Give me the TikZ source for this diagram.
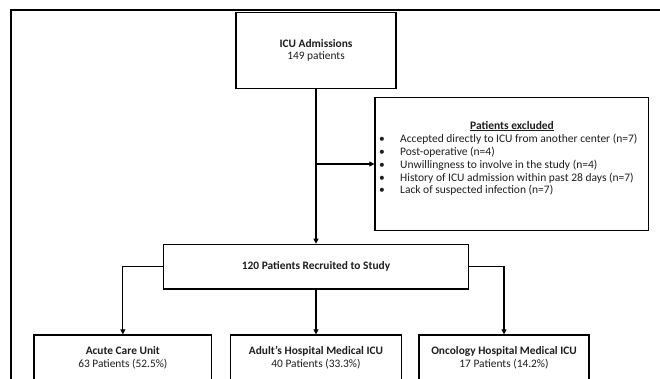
\documentclass[tikz,border=0pt]{standalone}
\usepackage{fontspec}
\setmainfont{Carlito}
\usepackage{xcolor}
\usepackage{tikz}
\usetikzlibrary{arrows.meta, positioning}
\definecolor{textdark}{RGB}{30, 30, 30}
\tikzset{
    flowbox/.style={
        rectangle,
        draw=black,
        line width=1.3pt,
        align=center,
        text=textdark,
        inner sep=0pt,
        font=\fontsize{11.4}{12.8}\selectfont
    },
    listtext/.style={
        align=left,
        text=textdark,
        inner sep=0pt,
        font=\fontsize{11.5}{12.8}\selectfont
    },
    flow/.style={
        -{Triangle[length=5pt,width=5pt]},
        line width=1.1pt
    }
}
\newcommand{\exclitem}[1]{\makebox[21pt][l]{\textbullet}#1}

\begin{document}
\begin{tikzpicture}[x=1pt, y=-1pt]
    \clip (0,0) rectangle (660,378);
    \fill[white] (0,0) rectangle (660,378);
    % frame round the whole chart
    \draw[line width=1.2pt] (11,400) -- (11,10) -- (680,10);

    \node[flowbox, minimum width=160pt, minimum height=75.6pt] (adm) at (316,50.5) {\textbf{ICU Admissions}\\149 patients};

    \node[flowbox, minimum width=273.5pt, minimum height=132.6pt] (excl) at (511.75,164) {};
    \node[listtext, align=center] (exclhead) at (512,126) {\textbf{\underline{Patients excluded}}};
    \node[listtext, anchor=north west] (excllist) at (379,134) {%
        \exclitem{Accepted directly to ICU from another center (n=7)}\\
        \exclitem{Post-operative (n=4)}\\
        \exclitem{Unwillingness to involve in the study (n=4)}\\
        \exclitem{History of ICU admission within past 28 days (n=7)}\\
        \exclitem{Lack of suspected infection (n=7)}};

    \node[flowbox, minimum width=305pt, minimum height=44.7pt] (rec) at (316,266.7) {\textbf{120 Patients Recruited to Study}};

    \node[flowbox, minimum width=177.7pt, minimum height=46pt] (acu) at (122.85,358) {\textbf{Acute Care Unit}\\63 Patients (52.5\%)};
    \node[flowbox, minimum width=170.4pt, minimum height=46pt] (adult) at (316,358) {\textbf{Adult’s Hospital Medical ICU}\\40 Patients (33.3\%)};
    \node[flowbox, minimum width=170pt, minimum height=46pt] (onc) at (504,358) {\textbf{Oncology Hospital Medical ICU}\\17 Patients (14.2\%)};

    \draw[flow] (adm) -- (rec);
    \draw[flow] (adm.south |- excl.west) -- (excl.west);
    \draw[flow] (rec.west) -| (acu.north);
    \draw[flow] (rec) -- (adult);
    \draw[flow] (rec.east) -| (onc.north);
\end{tikzpicture}
\end{document}
